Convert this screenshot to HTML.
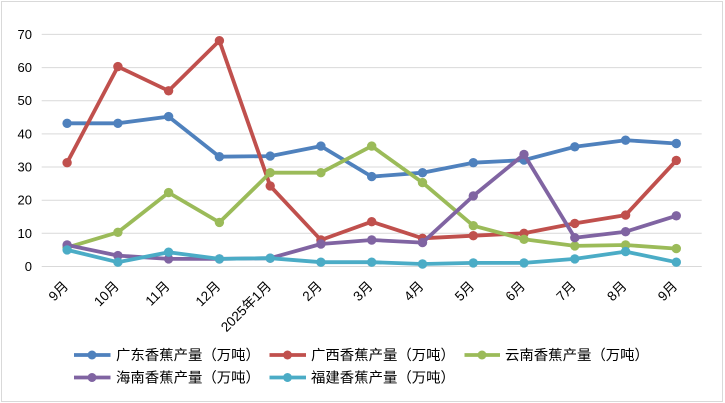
<!DOCTYPE html>
<html>
<head>
<meta charset="utf-8">
<style>
  html,body{margin:0;padding:0;background:#fff;}
  svg{display:block;}
  text{font-family:"Liberation Sans","Noto Sans CJK SC",sans-serif;fill:#000;}
</style>
</head>
<body>
<svg width="725" height="403" viewBox="0 0 725 403" xmlns="http://www.w3.org/2000/svg">
  <rect x="0" y="0" width="725" height="403" fill="#fff"/>
  <rect x="1.5" y="1.5" width="721" height="400" fill="none" stroke="#D9D9D9" stroke-width="1"/>

  <!-- gridlines -->
  <g stroke="#D9D9D9" stroke-width="1">
    <line x1="41.7" y1="266.5" x2="701.7" y2="266.5"/>
    <line x1="41.7" y1="233.3" x2="701.7" y2="233.3"/>
    <line x1="41.7" y1="200.2" x2="701.7" y2="200.2"/>
    <line x1="41.7" y1="167.0" x2="701.7" y2="167.0"/>
    <line x1="41.7" y1="133.9" x2="701.7" y2="133.9"/>
    <line x1="41.7" y1="100.7" x2="701.7" y2="100.7"/>
    <line x1="41.7" y1="67.6" x2="701.7" y2="67.6"/>
    <line x1="41.7" y1="34.4" x2="701.7" y2="34.4"/>
  </g>

  <!-- y labels -->
  <g font-size="13" text-anchor="end">
    <text x="32" y="271">0</text>
    <text x="32" y="237.8">10</text>
    <text x="32" y="204.7">20</text>
    <text x="32" y="171.5">30</text>
    <text x="32" y="138.4">40</text>
    <text x="32" y="105.2">50</text>
    <text x="32" y="72.1">60</text>
    <text x="32" y="38.9">70</text>
  </g>

  <!-- x labels -->
  <g font-size="13.5" text-anchor="end">
    <text transform="translate(69,287) rotate(-45)">9月</text>
    <text transform="translate(119.8,287) rotate(-45)">10月</text>
    <text transform="translate(170.5,287) rotate(-45)">11月</text>
    <text transform="translate(221.3,287) rotate(-45)">12月</text>
    <text transform="translate(272.1,287) rotate(-45)">2025年1月</text>
    <text transform="translate(322.8,287) rotate(-45)">2月</text>
    <text transform="translate(373.6,287) rotate(-45)">3月</text>
    <text transform="translate(424.4,287) rotate(-45)">4月</text>
    <text transform="translate(475.2,287) rotate(-45)">5月</text>
    <text transform="translate(525.9,287) rotate(-45)">6月</text>
    <text transform="translate(576.7,287) rotate(-45)">7月</text>
    <text transform="translate(627.5,287) rotate(-45)">8月</text>
    <text transform="translate(678.2,287) rotate(-45)">9月</text>
  </g>

  <!-- series: blue -->
  <g fill="#4F81BD">
    <polyline fill="none" stroke="#4F81BD" stroke-width="3.8" stroke-linejoin="round" points="67.1,123.3 117.9,123.3 168.6,116.6 219.4,156.7 270.2,156.1 320.9,146.1 371.7,176.6 422.5,172.7 473.3,162.7 524.0,160.1 574.8,146.8 625.6,140.2 676.3,143.5"/>
    <circle cx="67.1" cy="123.3" r="4.7"/><circle cx="117.9" cy="123.3" r="4.7"/><circle cx="168.6" cy="116.6" r="4.7"/><circle cx="219.4" cy="156.7" r="4.7"/><circle cx="270.2" cy="156.1" r="4.7"/><circle cx="320.9" cy="146.1" r="4.7"/><circle cx="371.7" cy="176.6" r="4.7"/><circle cx="422.5" cy="172.7" r="4.7"/><circle cx="473.3" cy="162.7" r="4.7"/><circle cx="524.0" cy="160.1" r="4.7"/><circle cx="574.8" cy="146.8" r="4.7"/><circle cx="625.6" cy="140.2" r="4.7"/><circle cx="676.3" cy="143.5" r="4.7"/>
  </g>

  <!-- red -->
  <g fill="#C0504D">
    <polyline fill="none" stroke="#C0504D" stroke-width="3.8" stroke-linejoin="round" points="67.1,162.7 117.9,66.6 168.6,90.8 219.4,40.7 270.2,185.9 320.9,240.0 371.7,221.7 422.5,238.3 473.3,235.7 524.0,233.3 574.8,223.4 625.6,215.1 676.3,160.4"/>
    <circle cx="67.1" cy="162.7" r="4.7"/><circle cx="117.9" cy="66.6" r="4.7"/><circle cx="168.6" cy="90.8" r="4.7"/><circle cx="219.4" cy="40.7" r="4.7"/><circle cx="270.2" cy="185.9" r="4.7"/><circle cx="320.9" cy="240.0" r="4.7"/><circle cx="371.7" cy="221.7" r="4.7"/><circle cx="422.5" cy="238.3" r="4.7"/><circle cx="473.3" cy="235.7" r="4.7"/><circle cx="524.0" cy="233.3" r="4.7"/><circle cx="574.8" cy="223.4" r="4.7"/><circle cx="625.6" cy="215.1" r="4.7"/><circle cx="676.3" cy="160.4" r="4.7"/>
  </g>

  <!-- green -->
  <g fill="#9BBB59">
    <polyline fill="none" stroke="#9BBB59" stroke-width="3.8" stroke-linejoin="round" points="67.1,247.6 117.9,232.3 168.6,192.6 219.4,222.4 270.2,172.7 320.9,172.7 371.7,146.1 422.5,182.6 473.3,225.7 524.0,239.3 574.8,245.9 625.6,245.0 676.3,248.6"/>
    <circle cx="67.1" cy="247.6" r="4.7"/><circle cx="117.9" cy="232.3" r="4.7"/><circle cx="168.6" cy="192.6" r="4.7"/><circle cx="219.4" cy="222.4" r="4.7"/><circle cx="270.2" cy="172.7" r="4.7"/><circle cx="320.9" cy="172.7" r="4.7"/><circle cx="371.7" cy="146.1" r="4.7"/><circle cx="422.5" cy="182.6" r="4.7"/><circle cx="473.3" cy="225.7" r="4.7"/><circle cx="524.0" cy="239.3" r="4.7"/><circle cx="574.8" cy="245.9" r="4.7"/><circle cx="625.6" cy="245.0" r="4.7"/><circle cx="676.3" cy="248.6" r="4.7"/>
  </g>

  <!-- purple -->
  <g fill="#8064A2">
    <polyline fill="none" stroke="#8064A2" stroke-width="3.8" stroke-linejoin="round" points="67.1,245.0 117.9,255.6 168.6,258.9 219.4,258.9 270.2,258.2 320.9,244.0 371.7,240.0 422.5,242.6 473.3,195.9 524.0,154.4 574.8,237.7 625.6,231.7 676.3,215.8"/>
    <circle cx="67.1" cy="245.0" r="4.7"/><circle cx="117.9" cy="255.6" r="4.7"/><circle cx="168.6" cy="258.9" r="4.7"/><circle cx="219.4" cy="258.9" r="4.7"/><circle cx="270.2" cy="258.2" r="4.7"/><circle cx="320.9" cy="244.0" r="4.7"/><circle cx="371.7" cy="240.0" r="4.7"/><circle cx="422.5" cy="242.6" r="4.7"/><circle cx="473.3" cy="195.9" r="4.7"/><circle cx="524.0" cy="154.4" r="4.7"/><circle cx="574.8" cy="237.7" r="4.7"/><circle cx="625.6" cy="231.7" r="4.7"/><circle cx="676.3" cy="215.8" r="4.7"/>
  </g>

  <!-- teal -->
  <g fill="#4BACC6">
    <polyline fill="none" stroke="#4BACC6" stroke-width="3.8" stroke-linejoin="round" points="67.1,249.9 117.9,262.2 168.6,252.2 219.4,258.9 270.2,258.2 320.9,262.2 371.7,262.2 422.5,264.0 473.3,262.9 524.0,262.9 574.8,258.9 625.6,251.6 676.3,262.2"/>
    <circle cx="67.1" cy="249.9" r="4.7"/><circle cx="117.9" cy="262.2" r="4.7"/><circle cx="168.6" cy="252.2" r="4.7"/><circle cx="219.4" cy="258.9" r="4.7"/><circle cx="270.2" cy="258.2" r="4.7"/><circle cx="320.9" cy="262.2" r="4.7"/><circle cx="371.7" cy="262.2" r="4.7"/><circle cx="422.5" cy="264.0" r="4.7"/><circle cx="473.3" cy="262.9" r="4.7"/><circle cx="524.0" cy="262.9" r="4.7"/><circle cx="574.8" cy="258.9" r="4.7"/><circle cx="625.6" cy="251.6" r="4.7"/><circle cx="676.3" cy="262.2" r="4.7"/>
  </g>

  <!-- legend -->
  <g font-size="14.4">
    <line x1="74" y1="355" x2="110.5" y2="355" stroke="#4F81BD" stroke-width="3.8"/>
    <circle cx="92" cy="355" r="4.5" fill="#4F81BD"/>
    <text x="116" y="360">广东香蕉产量（万吨）</text>

    <line x1="269.5" y1="355" x2="306" y2="355" stroke="#C0504D" stroke-width="3.8"/>
    <circle cx="287.5" cy="355" r="4.5" fill="#C0504D"/>
    <text x="311" y="360">广西香蕉产量（万吨）</text>

    <line x1="464.5" y1="355" x2="500" y2="355" stroke="#9BBB59" stroke-width="3.8"/>
    <circle cx="482" cy="355" r="4.5" fill="#9BBB59"/>
    <text x="505" y="360">云南香蕉产量（万吨）</text>

    <line x1="74" y1="377.5" x2="110.5" y2="377.5" stroke="#8064A2" stroke-width="3.8"/>
    <circle cx="92" cy="377.5" r="4.5" fill="#8064A2"/>
    <text x="116" y="382.5">海南香蕉产量（万吨）</text>

    <line x1="269.5" y1="377.5" x2="306" y2="377.5" stroke="#4BACC6" stroke-width="3.8"/>
    <circle cx="287.5" cy="377.5" r="4.5" fill="#4BACC6"/>
    <text x="311" y="382.5">福建香蕉产量（万吨）</text>
  </g>
</svg>
</body>
</html>
